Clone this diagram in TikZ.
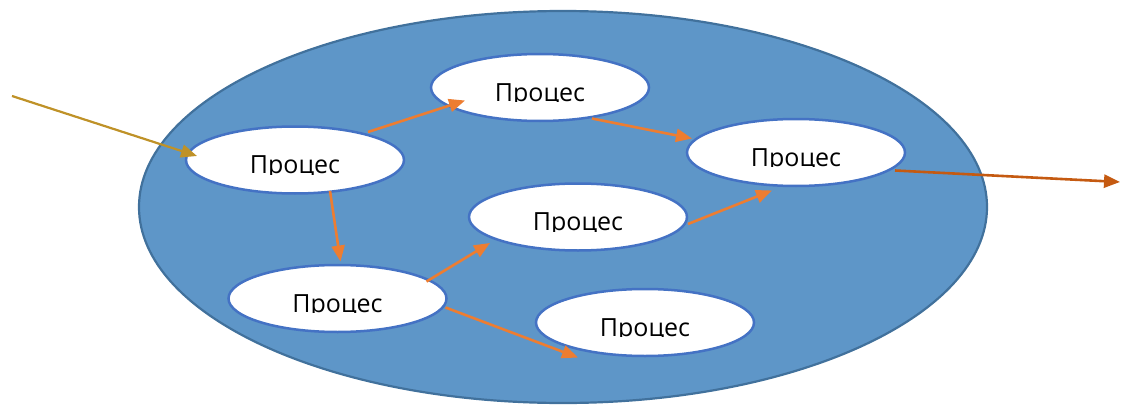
\documentclass[tikz,border=0pt]{standalone}
\usepackage{fontspec}
\setmainfont{Open Sans}
\usetikzlibrary{shapes.geometric,arrows.meta}

\definecolor{poolfill}{RGB}{94,150,200}
\definecolor{pooledge}{RGB}{65,113,156}
\definecolor{procedge}{RGB}{68,114,196}
\definecolor{flow}{RGB}{237,125,49}
\definecolor{inflow}{RGB}{191,146,40}
\definecolor{outflow}{RGB}{197,90,17}

\tikzset{
  pool/.style={ellipse, draw=pooledge, line width=2.2pt, fill=poolfill,
    minimum width=848pt, minimum height=392pt, inner sep=0pt},
  proc/.style={ellipse, draw=procedge, line width=2.5pt, fill=white,
    minimum width=218pt, minimum height=67pt, inner sep=0pt},
  lbl/.style={font=\fontsize{25}{28}\selectfont, anchor=base, inner sep=0pt},
  tip/.style={-{Triangle[length=16pt,width=13pt]}},
  link/.style={draw=flow, line width=2.6pt, tip},
  inlink/.style={draw=inflow, line width=2.2pt, tip},
  outlink/.style={draw=outflow, line width=2.6pt, tip},
}

\begin{document}
\begin{tikzpicture}[x=1pt, y=-1pt]
  \useasboundingbox (0,0) rectangle (1121,404);

  % enclosing system
  \node[pool] (sys) at (563,207) {};

  % processes
  \node[proc] (p1) at (295,160) {};
  \node[proc] (p2) at (540,87.5) {};
  \node[proc] (p3) at (796,152.5) {};
  \node[proc] (p4) at (578,217) {};
  \node[proc] (p5) at (337.5,298.5) {};
  \node[proc] (p6) at (645,322.5) {};

  % labels, cut off just below the baseline
  \foreach \n in {p1,p2,p3,p4,p5,p6} {
    \begin{scope}
      \clip ([xshift=-70pt,yshift=30pt]\n.center) rectangle ([xshift=70pt,yshift=-14pt]\n.center);
      \node[lbl] at ([yshift=-13.5pt]\n.center) {Процес};
    \end{scope}
  }

  % flows between processes
  \draw[link] ([shift={(73,-28)}]p1.center) -- ([shift={(-75,13)}]p2.center);
  \draw[link] ([shift={(52,31)}]p2.center) -- ([shift={(-104,-14)}]p3.center);
  \draw[link] ([shift={(35,31)}]p1.center) -- ([shift={(3,-37)}]p5.center);
  \draw[link] ([shift={(89,-17)}]p5.center) -- ([shift={(-88,26)}]p4.center);
  \draw[link] ([shift={(110,7)}]p4.center) -- ([shift={(-24,38)}]p3.center);
  \draw[link] ([shift={(108,9)}]p5.center) -- ([shift={(-67,35)}]p6.center);

  % input and output
  \coordinate (src) at (12,96);
  \coordinate (dst) at (1120,182);
  \draw[inlink] (src) -- ([shift={(-98,-4)}]p1.center);
  \draw[outlink] ([shift={(99,18)}]p3.center) -- (dst);
\end{tikzpicture}
\end{document}
